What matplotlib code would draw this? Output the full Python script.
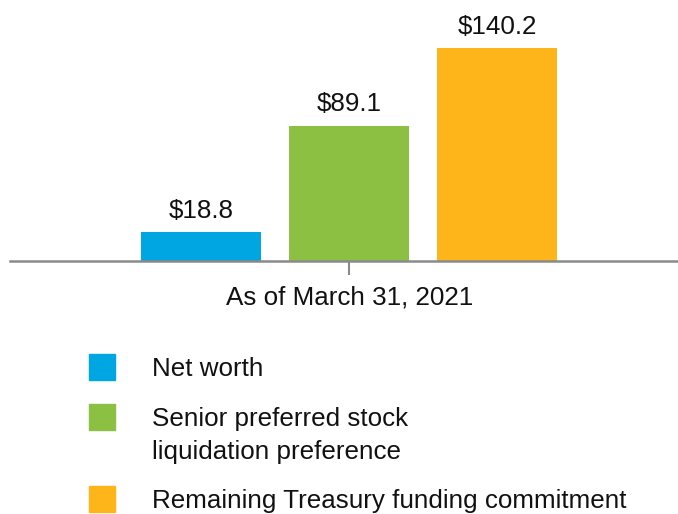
import matplotlib.pyplot as plt
from matplotlib.patches import Rectangle

plt.rcParams['font.family'] = ['Liberation Sans', 'DejaVu Sans']

categories = ['Net worth', 'Senior preferred stock\nliquidation preference',
              'Remaining Treasury funding commitment']
values = [18.8, 89.1, 140.2]
colors = ['#00a6e2', '#8bc043', '#feb519']
xlabel = 'As of March 31, 2021'

W, H = 678, 514
FS = 18.7
TXT = '#111111'
fig = plt.figure(figsize=(W / 100, H / 100), dpi=100)
# axes placed in pixel units: left 10, right edge, baseline at y=261 from top
ax = fig.add_axes([10 / W, 1 - 261 / H, 668 / W, 261 / H])

pos = [0, 1, 2]
ax.bar(pos, values, width=0.81, color=colors)
for p, v in zip(pos, values):
    ax.text(p, v + 6, f'${v:.1f}', ha='center', va='bottom', fontsize=FS, color=TXT)

ax.set_xlim(-1.29, 3.22)
ax.set_ylim(0, 171.7)
ax.set_yticks([])
ax.set_xticks([1])
ax.set_xticklabels([xlabel], fontsize=FS, color=TXT)
ax.tick_params(axis='x', length=10, width=1.5, color='#8a8a8a', pad=8)
for s in ['top', 'right', 'left']:
    ax.spines[s].set_visible(False)
ax.spines['bottom'].set_color('#8a8a8a')
ax.spines['bottom'].set_linewidth(1.8)

# legend drawn by hand (square aligned with first line of each label)
leg_tops = [354, 404, 486]
for top, lab, c in zip(leg_tops, categories, colors):
    fig.add_artist(Rectangle((89 / W, 1 - (top + 26) / H), 26 / W, 26 / H,
                             transform=fig.transFigure, color=c))
    for i, ln in enumerate(lab.split('\n')):
        fig.text(152 / W, 1 - (top + 15 + i * 33) / H, ln, ha='left', va='center',
                 fontsize=FS, color=TXT)

fig.savefig('out.png', dpi=100)
